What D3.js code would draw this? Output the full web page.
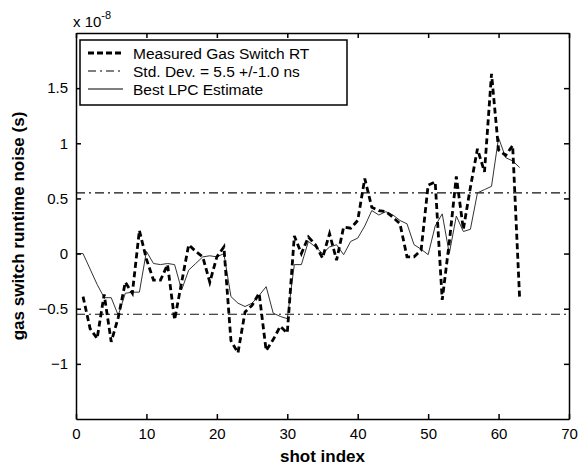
<!DOCTYPE html>
<html>
<head>
<meta charset="utf-8">
<script src="https://cdn.jsdelivr.net/npm/d3@7"></script>
<style>
  body { margin: 0; background: #fff; }
  svg { display: block; font-family: "Liberation Sans", Arial, sans-serif; }
</style>
</head>
<body>
<div class="root"></div>
<script>
// measured gas switch runtime noise (x 1e-8 s), shots 1..63
const measured = [-0.39, -0.68, -0.77, -0.37, -0.80, -0.58, -0.26, -0.36, 0.21, -0.05,
  -0.24, -0.24, -0.10, -0.60, -0.26, 0.08, 0.02, -0.03, -0.26, -0.03,
  0.06, -0.79, -0.90, -0.53, -0.47, -0.36, -0.88, -0.78, -0.66, -0.72,
  0.16, 0.00, 0.15, 0.08, -0.04, 0.18, -0.06, 0.24, 0.23, 0.30,
  0.68, 0.42, 0.39, 0.38, 0.33, 0.27, -0.03, -0.03, 0.03, 0.62,
  0.65, -0.42, 0.10, 0.70, 0.22, 0.60, 0.95, 0.74, 1.63, 0.94,
  0.89, 0.98, -0.42];
const measuredStart = 1;

// best LPC estimate, shots 0..63
const lpc = [0.00, 0.00, -0.14, -0.28, -0.40, -0.40, -0.56, -0.36, -0.35, -0.35,
  0.02, -0.09, -0.10, -0.09, -0.10, -0.33, -0.15, -0.09, -0.03, -0.02,
  -0.03, 0.00, -0.39, -0.45, -0.48, -0.45, -0.38, -0.30, -0.54, -0.57,
  -0.59, -0.10, -0.10, 0.11, 0.06, 0.00, 0.06, 0.08, -0.01, 0.11,
  0.14, 0.25, 0.39, 0.35, 0.38, 0.35, 0.30, 0.27, 0.08, 0.04,
  -0.01, 0.25, 0.36, 0.00, 0.34, 0.20, 0.22, 0.55, 0.58, 0.61,
  1.05, 0.87, 0.84, 0.78];
const lpcStart = 0;

const stdDev = [0.55, -0.55];

const xTicks = [0, 10, 20, 30, 40, 50, 60, 70];
const yTicks = [-1, -0.5, 0, 0.5, 1, 1.5];
const legendLabels = ["Measured Gas Switch RT", "Std. Dev. = 5.5 +/-1.0 ns", "Best LPC Estimate"];

const w = 579;
const h = 468;
const margin = {top: 33, right: 10, bottom: 49, left: 76};

const svg = d3.select(".root")
              .append("svg")
              .attr("width", w)
              .attr("height", h);

const xScale = d3.scaleLinear()
                 .domain([0, 70])
                 .range([margin.left, w - margin.right]);

const yScale = d3.scaleLinear()
                 .domain([-1.5, 2])
                 .range([h - margin.bottom, margin.top]);

// std dev lines
svg.selectAll(".std")
   .data(stdDev)
   .enter()
   .append("line")
   .attr("x1", xScale(0))
   .attr("x2", xScale(70))
   .attr("y1", d => yScale(d))
   .attr("y2", d => yScale(d))
   .attr("stroke", "#111")
   .attr("stroke-width", 1.1)
   .attr("stroke-dasharray", "9,4,2,4");

const line = d3.line()
               .x(d => xScale(d[0]))
               .y(d => yScale(d[1]));

// LPC estimate (thin solid)
svg.append("path")
   .datum(lpc.map((v, i) => [i + lpcStart, v]))
   .attr("d", line)
   .attr("fill", "none")
   .attr("stroke", "#333")
   .attr("stroke-width", 1);

// measured (thick dashed)
svg.append("path")
   .datum(measured.map((v, i) => [i + measuredStart, v]))
   .attr("d", line)
   .attr("fill", "none")
   .attr("stroke", "#000")
   .attr("stroke-width", 2.8)
   .attr("stroke-dasharray", "6,3.5");

// axes, ticks inward on all sides
const xAxis = d3.axisBottom(xScale).tickValues(xTicks).tickSizeInner(-5).tickSizeOuter(0).tickPadding(9);
const xAxisTop = d3.axisTop(xScale).tickValues(xTicks).tickSizeInner(-5).tickSizeOuter(0).tickFormat("");
const yAxis = d3.axisLeft(yScale).tickValues(yTicks).tickSizeInner(-5).tickSizeOuter(0).tickPadding(8)
                .tickFormat(d => d3.format("")(d));
const yAxisRight = d3.axisRight(yScale).tickValues(yTicks).tickSizeInner(-5).tickSizeOuter(0).tickFormat("");

svg.append("g")
   .attr("class", "axis")
   .attr("transform", "translate(0," + (h - margin.bottom) + ")")
   .call(xAxis);
svg.append("g")
   .attr("class", "axis")
   .attr("transform", "translate(0," + margin.top + ")")
   .call(xAxisTop);
svg.append("g")
   .attr("class", "axis")
   .attr("transform", "translate(" + margin.left + ",0)")
   .call(yAxis);
svg.append("g")
   .attr("class", "axis")
   .attr("transform", "translate(" + (w - margin.right) + ",0)")
   .call(yAxisRight);

svg.selectAll(".axis path, .axis line")
   .attr("stroke", "#000")
   .attr("stroke-width", 1.5);
svg.selectAll(".axis text")
   .attr("fill", "#000")
   .style("font-size", "15px")
   .style("font-family", "Liberation Sans, Arial, sans-serif");

// exponent label
const expo = svg.append("text")
   .attr("x", margin.left - 3)
   .attr("y", 27)
   .style("font-size", "15px")
   .attr("fill", "#000");
expo.append("tspan").text("x 10");
expo.append("tspan").attr("dy", -8).style("font-size", "11px").text("-8");

// axis labels
svg.append("text")
   .attr("x", (xScale(0) + xScale(70)) / 2)
   .attr("y", 462)
   .attr("text-anchor", "middle")
   .style("font-size", "17px")
   .style("font-weight", "bold")
   .text("shot index");

svg.append("text")
   .attr("text-anchor", "middle")
   .attr("transform", "translate(24," + ((yScale(-1.5) + yScale(2)) / 2) + ")rotate(-90)")
   .style("font-size", "17px")
   .style("font-weight", "bold")
   .text("gas switch runtime noise (s)");

// legend
const lg = svg.append("g").attr("transform", "translate(80,40)");
lg.append("rect")
  .attr("width", 267)
  .attr("height", 65)
  .attr("fill", "#fff")
  .attr("stroke", "#000")
  .attr("stroke-width", 1.5);

const legendStyles = [
  {dash: "6,3", width: 2.8},
  {dash: "8,4,2,4", width: 1.1},
  {dash: null, width: 1}
];

legendLabels.forEach((label, i) => {
  const yy = 13 + i * 18;
  lg.append("line")
    .attr("x1", 8)
    .attr("x2", 43)
    .attr("y1", yy)
    .attr("y2", yy)
    .attr("stroke", "#000")
    .attr("stroke-width", legendStyles[i].width)
    .attr("stroke-dasharray", legendStyles[i].dash);
  lg.append("text")
    .attr("x", 53)
    .attr("y", yy + 5.5)
    .style("font-size", "15.5px")
    .text(label);
});
</script>
</body>
</html>
